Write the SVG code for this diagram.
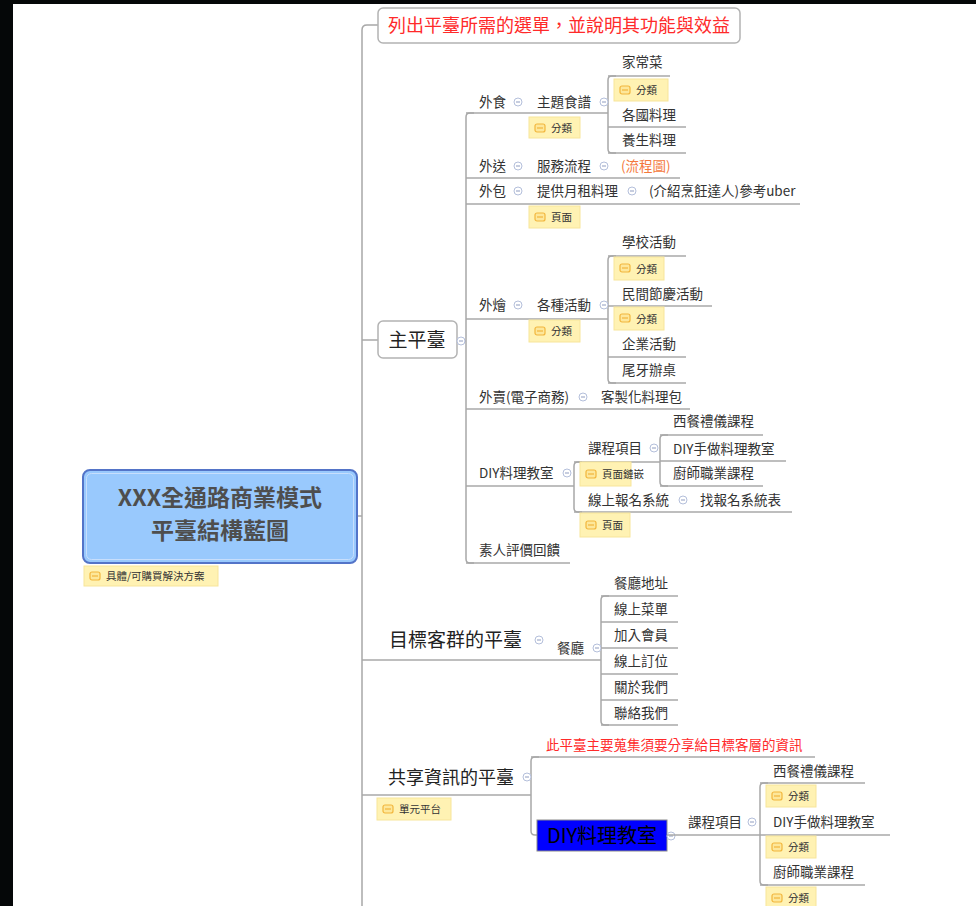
<svg xmlns="http://www.w3.org/2000/svg" xmlns:xlink="http://www.w3.org/1999/xlink" width="976" height="906" viewBox="0 0 976 906">
<style>
.t{font-family:"Microsoft JhengHei","Noto Sans CJK TC","Noto Sans CJK SC",sans-serif;font-size:13.5px;fill:#333}
.big{font-size:19px;fill:#222}
.ln{fill:none;stroke:#a8a8a8;stroke-width:1.5}
.box{fill:#fff;stroke:#b3b3b3;stroke-width:1.5}
.lbr{fill:#fff2b3;stroke:#f7e59a;stroke-width:1}
.lbi{fill:#fde79a;stroke:#f2b63c;stroke-width:1.2}
.lbt{font-family:"Microsoft JhengHei","Noto Sans CJK TC",sans-serif;font-size:10.5px;fill:#333}
.red{fill:#ff2a2a}
.rt{font-size:23px;fill:#4e4e4e;font-weight:bold}
</style>
<defs>
<g id="col"><circle r="4" fill="#fff" stroke="#b4bfdb" stroke-width="1"/><line x1="-2" y1="0" x2="2" y2="0" stroke="#8f9cc0" stroke-width="1"/></g>
<g id="ico"><rect x="0" y="0" width="10" height="8" rx="2" class="lbi"/><line x1="2" y1="4" x2="8" y2="4" stroke="#f2b63c" stroke-width="1.2"/></g>
</defs>
<rect width="976" height="906" fill="#fff"/>
<rect x="0" y="0" width="13" height="906" fill="#050708"/>
<rect x="0" y="0" width="976" height="4" fill="#050708"/>

<g id="connectors" class="ln">
<path d="M378 25 H367 Q362 25 362 30 V910"/>
<path d="M357 516 H362"/>
<path d="M362 340 H378"/>
<path d="M457 341 H466"/>
<path d="M474 113 H470 Q466 113 466 117 V559 Q466 563 470 563 H474"/>
<path d="M616 76 H612 Q608 76 608 80 V149 Q608 153 612 153 H616"/>
<path d="M616 256 H612 Q608 256 608 260 V379 Q608 383 612 383 H616"/>
<path d="M582 462 H578 Q574 462 574 466 V508 Q574 512 578 512 H582"/>
<path d="M668 435 H664 Q660 435 660 439 V482 Q660 486 664 486 H668"/>
<path d="M609 596 H605 Q601 596 601 600 V721 Q601 725 605 725 H609"/>
<path d="M539 757 H535 Q531 757 531 761 V831 Q531 835 535 835 H537"/>
<path d="M768 783 H764 Q760 783 760 787 V881 Q760 885 764 885 H768"/>
</g>

<g id="root">
<rect x="83" y="470" width="274" height="93" rx="7" fill="#99c9fd" stroke="#5374c8" stroke-width="2"/>
<rect x="86.5" y="473.5" width="267" height="86" rx="5" fill="none" stroke="#c7defc" stroke-width="1"/>
<text class="t rt" x="220" y="506" text-anchor="middle">XXX全通路商業模式</text>
<text class="t rt" x="220" y="539" text-anchor="middle">平臺結構藍圖</text>
<g transform="translate(84,566)"><rect width="134" height="20" class="lbr"/><use xlink:href="#ico" x="6" y="6"/><text class="lbt" x="22" y="14">具體/可購買解決方案</text></g>
</g>

<g id="menu-list">
<rect x="378" y="8" width="362" height="35" rx="5" class="box"/>
<text class="t red" x="559" y="32" text-anchor="middle" style="font-size:18px">列出平臺所需的選單，並說明其功能與效益</text>
</g>

<g id="main-platform">
<rect x="378" y="321" width="79" height="37" rx="5" class="box"/>
<text class="t big" x="417" y="346.5" text-anchor="middle">主平臺</text>
<use xlink:href="#col" x="461" y="341"/>
</g>

<g id="waishi">
<path class="ln" d="M466 113 H608"/>
<text class="t" x="479" y="107">外食</text>
<use xlink:href="#col" x="518" y="102"/>
</g>
<g id="theme-recipe">
<text class="t" x="537" y="107">主題食譜</text>
<use xlink:href="#col" x="604" y="102"/>
<g transform="translate(529,117)"><rect width="51" height="21" class="lbr"/><use xlink:href="#ico" x="6" y="7"/><text class="lbt" x="22" y="14.5">分類</text></g>
</g>
<g id="jiachang">
<path class="ln" d="M608 76 H670"/>
<text class="t" x="622" y="67">家常菜</text>
<g transform="translate(614,79)"><rect width="54" height="22" class="lbr"/><use xlink:href="#ico" x="6" y="7"/><text class="lbt" x="22" y="15">分類</text></g>
</g>
<g id="geguo">
<path class="ln" d="M608 127 H686"/>
<text class="t" x="622" y="120">各國料理</text>
</g>
<g id="yangsheng">
<path class="ln" d="M608 153 H686"/>
<text class="t" x="622" y="145">養生料理</text>
</g>

<g id="waisong">
<path class="ln" d="M466 178 H680"/>
<text class="t" x="479" y="171">外送</text>
<use xlink:href="#col" x="518" y="166"/>
<text class="t" x="537" y="171">服務流程</text>
<use xlink:href="#col" x="604" y="166"/>
<text class="t" x="621" y="171" style="fill:#f4783c">(流程圖)</text>
</g>

<g id="waibao">
<path class="ln" d="M466 204 H800"/>
<text class="t" x="479" y="196">外包</text>
<use xlink:href="#col" x="518" y="191"/>
<text class="t" x="537" y="196">提供月租料理</text>
<use xlink:href="#col" x="632" y="191"/>
<text class="t" x="649" y="196">(介紹烹飪達人)參考uber</text>
<g transform="translate(529,206)"><rect width="51" height="22" class="lbr"/><use xlink:href="#ico" x="6" y="7"/><text class="lbt" x="22" y="15">頁面</text></g>
</g>

<g id="waihui">
<path class="ln" d="M466 319 H608"/>
<text class="t" x="479" y="310">外燴</text>
<use xlink:href="#col" x="518" y="305"/>
<text class="t" x="537" y="310">各種活動</text>
<use xlink:href="#col" x="604" y="305"/>
<g transform="translate(529,320)"><rect width="51" height="22" class="lbr"/><use xlink:href="#ico" x="6" y="7"/><text class="lbt" x="22" y="15">分類</text></g>
</g>
<g id="school">
<path class="ln" d="M608 256 H686"/>
<text class="t" x="622" y="247">學校活動</text>
<g transform="translate(614,257)"><rect width="50" height="23" class="lbr"/><use xlink:href="#ico" x="6" y="7"/><text class="lbt" x="22" y="15.5">分類</text></g>
</g>
<g id="festival">
<path class="ln" d="M608 306 H712"/>
<text class="t" x="622" y="299">民間節慶活動</text>
<g transform="translate(614,307)"><rect width="50" height="23" class="lbr"/><use xlink:href="#ico" x="6" y="7"/><text class="lbt" x="22" y="15.5">分類</text></g>
</g>
<g id="enterprise">
<path class="ln" d="M608 357 H686"/>
<text class="t" x="622" y="349">企業活動</text>
</g>
<g id="weiya">
<path class="ln" d="M608 383 H686"/>
<text class="t" x="622" y="375">尾牙辦桌</text>
</g>

<g id="waimai">
<path class="ln" d="M466 409 H690"/>
<text class="t" x="479" y="402">外賣(電子商務)</text>
<use xlink:href="#col" x="583" y="397"/>
<text class="t" x="601" y="402">客製化料理包</text>
</g>

<g id="diy">
<path class="ln" d="M466 486 H574"/>
<text class="t" x="479" y="478">DIY料理教室</text>
<use xlink:href="#col" x="567" y="473"/>
</g>
<g id="course">
<path class="ln" d="M574 462 H660"/>
<text class="t" x="588" y="453">課程項目</text>
<use xlink:href="#col" x="654" y="448"/>
<g transform="translate(580,462)"><rect width="51" height="24" class="lbr"/><use xlink:href="#ico" x="6" y="8"/><text class="lbt" x="22" y="16">頁面鏈嵌</text></g>
</g>
<g id="etiquette">
<path class="ln" d="M660 435 H763"/>
<text class="t" x="673" y="426">西餐禮儀課程</text>
</g>
<g id="diy-hand">
<path class="ln" d="M660 461 H786"/>
<text class="t" x="673" y="454">DIY手做料理教室</text>
</g>
<g id="chef">
<path class="ln" d="M660 486 H763"/>
<text class="t" x="673" y="478">廚師職業課程</text>
</g>
<g id="signup">
<path class="ln" d="M574 512 H792"/>
<text class="t" x="588" y="505">線上報名系統</text>
<use xlink:href="#col" x="683" y="500"/>
<text class="t" x="700" y="505">找報名系統表</text>
<g transform="translate(580,513)"><rect width="50" height="24" class="lbr"/><use xlink:href="#ico" x="6" y="8"/><text class="lbt" x="22" y="16">頁面</text></g>
</g>
<g id="review">
<path class="ln" d="M466 563 H570"/>
<text class="t" x="479" y="555">素人評價回饋</text>
</g>

<g id="target-platform">
<path class="ln" d="M362 660 H601"/>
<text class="t big" x="389" y="647">目標客群的平臺</text>
<use xlink:href="#col" x="539" y="640"/>
</g>
<g id="restaurant">
<text class="t" x="557" y="653">餐廳</text>
<use xlink:href="#col" x="597" y="648"/>
</g>
<g id="r-address"><path class="ln" d="M601 596 H678"/><text class="t" x="614" y="588">餐廳地址</text></g>
<g id="r-menu"><path class="ln" d="M601 622 H678"/><text class="t" x="614" y="614">線上菜單</text></g>
<g id="r-member"><path class="ln" d="M601 648 H678"/><text class="t" x="614" y="640">加入會員</text></g>
<g id="r-booking"><path class="ln" d="M601 674 H678"/><text class="t" x="614" y="666">線上訂位</text></g>
<g id="r-about"><path class="ln" d="M601 700 H678"/><text class="t" x="614" y="692">關於我們</text></g>
<g id="r-contact"><path class="ln" d="M601 725 H678"/><text class="t" x="614" y="718">聯絡我們</text></g>

<g id="share-platform">
<path class="ln" d="M362 795 H531"/>
<text class="t" x="388" y="783.5" style="font-size:18px;fill:#222">共享資訊的平臺</text>
<use xlink:href="#col" x="527" y="777"/>
<g transform="translate(377,798)"><rect width="74" height="22" class="lbr"/><use xlink:href="#ico" x="6" y="7"/><text class="lbt" x="22" y="15">單元平台</text></g>
</g>
<g id="share-note">
<path class="ln" d="M531 757 H815"/>
<text class="t red" x="546" y="750">此平臺主要蒐集須要分享給目標客層的資訊</text>
</g>
<g id="share-diy">
<rect x="537" y="820" width="130" height="31" fill="#0000ff" stroke="#8a8a8a" stroke-width="1"/>
<text class="t" x="602" y="842.5" text-anchor="middle" style="font-size:20px;fill:#000">DIY料理教室</text>
<use xlink:href="#col" x="671" y="836"/>
</g>
<g id="share-course">
<path class="ln" d="M667 835 H760"/>
<text class="t" x="688" y="827">課程項目</text>
<use xlink:href="#col" x="752" y="822"/>
</g>
<g id="s-etiquette">
<path class="ln" d="M760 783 H865"/>
<text class="t" x="773" y="776">西餐禮儀課程</text>
<g transform="translate(766,785)"><rect width="50" height="22" class="lbr"/><use xlink:href="#ico" x="6" y="7"/><text class="lbt" x="22" y="15">分類</text></g>
</g>
<g id="s-diy-hand">
<path class="ln" d="M760 835 H890"/>
<text class="t" x="773" y="827">DIY手做料理教室</text>
<g transform="translate(766,836)"><rect width="50" height="22" class="lbr"/><use xlink:href="#ico" x="6" y="7"/><text class="lbt" x="22" y="15">分類</text></g>
</g>
<g id="s-chef">
<path class="ln" d="M760 885 H865"/>
<text class="t" x="773" y="877">廚師職業課程</text>
<g transform="translate(766,887)"><rect width="50" height="22" class="lbr"/><use xlink:href="#ico" x="6" y="7"/><text class="lbt" x="22" y="15">分類</text></g>
</g>
</svg>
